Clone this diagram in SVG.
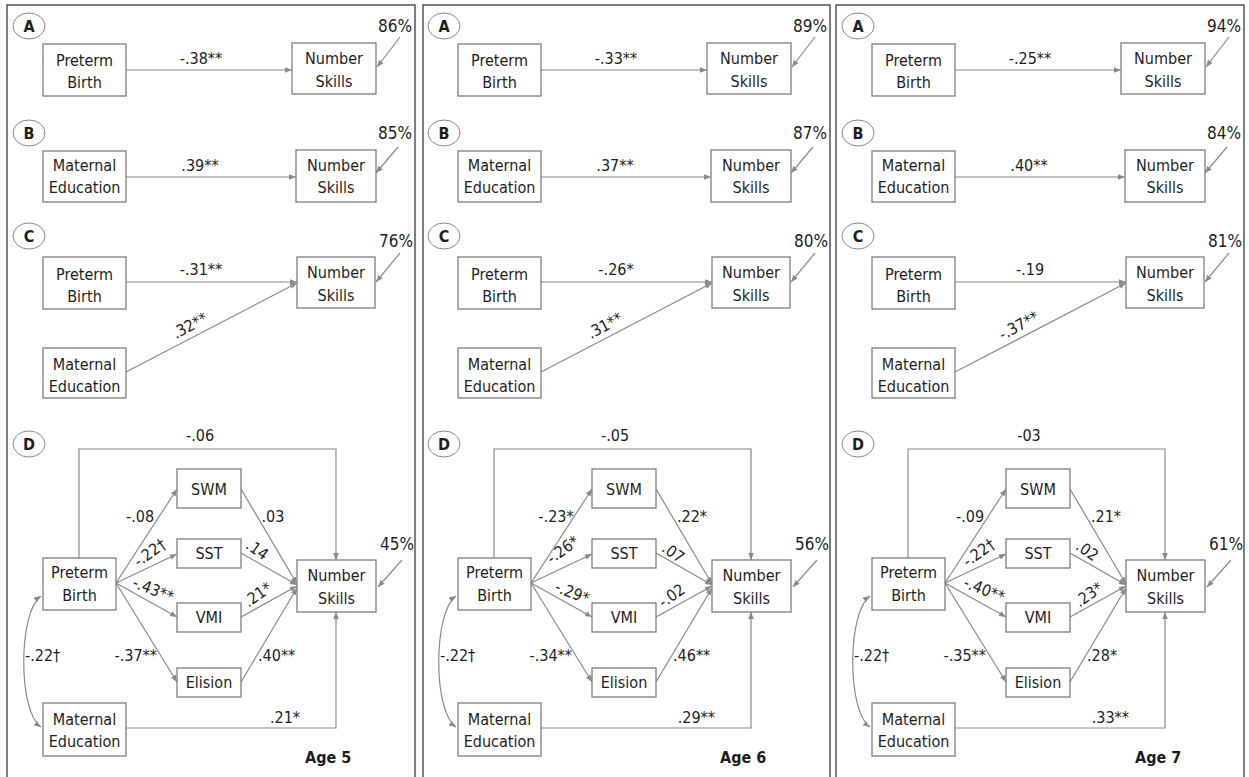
<svg xmlns="http://www.w3.org/2000/svg" width="1249" height="777" viewBox="0 0 1249 777">
<style>
.frame{fill:none;stroke:#3a3a3a;stroke-width:1.3}
.box{fill:#fff;stroke:#7f7f7f;stroke-width:1.3}
.tag{fill:#fff;stroke:#8a8a8a;stroke-width:1}
.e{fill:none;stroke:#8a8a8a;stroke-width:1.2;marker-end:url(#ah)}
.e2{fill:none;stroke:#8a8a8a;stroke-width:1.2;marker-start:url(#ah);marker-end:url(#ah)}
text{font-family:"DejaVu Sans Condensed","Liberation Sans",Arial,sans-serif;fill:#1e1e1e}
.n{font-size:16px;text-anchor:middle}
.c{font-size:16px;text-anchor:middle}
.s{font-size:16px}
.ce{font-size:16px;text-anchor:end}
.p{font-size:17px;text-anchor:middle}
.L{font-size:16px;font-weight:bold;text-anchor:middle}
.age{font-size:16px;font-weight:bold}
</style>
<defs>
<marker id="ah" viewBox="0 0 10 10" refX="10" refY="5" markerWidth="7" markerHeight="7" markerUnits="userSpaceOnUse" orient="auto-start-reverse">
<path d="M0,1 L10,5 L0,9 z" fill="#8a8a8a"/>
</marker>
</defs>
<g id="frames">
<rect class="frame" x="7" y="5" width="408" height="800"/>
<rect class="frame" x="423" y="5" width="407" height="800"/>
<rect class="frame" x="836" y="5" width="408" height="800"/>
</g>

<!-- Panel 1 : Age 5 -->
<g id="panel1">
<g id="p1-edges">
<path class="e" d="M126 70 H292"/>
<path class="e" d="M400 37 L377 67"/>
<path class="e" d="M126 177 H296"/>
<path class="e" d="M398 147 L376 173"/>
<path class="e" d="M126 282 H297"/>
<path class="e" d="M126 372 L297 283"/>
<path class="e" d="M400 253 L376 282"/>
<path class="e" d="M79 558 V449 H336 V560"/>
<path class="e" d="M116 583 L177 489"/>
<path class="e" d="M116 583 L177 554"/>
<path class="e" d="M116 583 L177 617"/>
<path class="e" d="M116 583 L177 682"/>
<path class="e" d="M241 489 L297 584"/>
<path class="e" d="M241 553 L297 585"/>
<path class="e" d="M241 617 L297 586"/>
<path class="e" d="M241 682 L297 588"/>
<path class="e" d="M126 728 H336 V612"/>
<path class="e" d="M402 560 L378 587"/>
<path class="e2" d="M41 596 C18 612, 18 712, 41 727"/>
</g>
<g id="p1-labels">
<text class="c" x="201" y="64">-.38**</text>
<text class="p" x="395" y="32">86%</text>
<text class="c" x="200" y="171">.39**</text>
<text class="p" x="395" y="139">85%</text>
<text class="c" x="201" y="275">-.31**</text>
<text class="c" x="190" y="331" transform="rotate(-28 190 326)">.32**</text>
<text class="p" x="396" y="247">76%</text>
<text class="c" x="200" y="441">-.06</text>
<text class="c" x="140" y="522">-.08</text>
<text class="c" x="273" y="522">.03</text>
<text class="c" x="150" y="558" transform="rotate(-36 150 553)">-.22†</text>
<text class="c" x="257" y="555" transform="rotate(35 257 550)">.14</text>
<text class="c" x="153" y="595" transform="rotate(22 153 590)">-.43**</text>
<text class="c" x="258" y="600" transform="rotate(-35 258 595)">.21*</text>
<text class="ce" x="157" y="661">-.37**</text>
<text class="s" x="258" y="661">.40**</text>
<text class="s" x="25" y="661">-.22†</text>
<text class="ce" x="300" y="723">.21*</text>
<text class="p" x="397" y="550">45%</text>
<text class="age" x="305" y="763">Age 5</text>
</g>
<g id="p1-tagA"><ellipse class="tag" cx="29" cy="26" rx="16" ry="13"/><text class="L" x="29" y="32">A</text></g>
<g id="p1-tagB"><ellipse class="tag" cx="29" cy="133" rx="16" ry="13"/><text class="L" x="29" y="139">B</text></g>
<g id="p1-tagC"><ellipse class="tag" cx="29" cy="236" rx="16" ry="13"/><text class="L" x="29" y="242">C</text></g>
<g id="p1-tagD"><ellipse class="tag" cx="29" cy="444" rx="16" ry="13"/><text class="L" x="29" y="450">D</text></g>
<g id="p1-A-preterm"><rect class="box" x="43" y="44" width="83" height="52"/><text class="n" x="84.5" y="66">Preterm</text><text class="n" x="84.5" y="88">Birth</text></g>
<g id="p1-A-number"><rect class="box" x="292" y="43" width="84" height="51"/><text class="n" x="334" y="64">Number</text><text class="n" x="334" y="87">Skills</text></g>
<g id="p1-B-maternal"><rect class="box" x="43" y="151" width="83" height="51"/><text class="n" x="84.5" y="171">Maternal</text><text class="n" x="84.5" y="193">Education</text></g>
<g id="p1-B-number"><rect class="box" x="296" y="150" width="80" height="52"/><text class="n" x="336" y="171">Number</text><text class="n" x="336" y="193">Skills</text></g>
<g id="p1-C-preterm"><rect class="box" x="43" y="257" width="83" height="52"/><text class="n" x="84.5" y="280">Preterm</text><text class="n" x="84.5" y="302">Birth</text></g>
<g id="p1-C-number"><rect class="box" x="297" y="257" width="78" height="51"/><text class="n" x="336" y="278">Number</text><text class="n" x="336" y="301">Skills</text></g>
<g id="p1-C-maternal"><rect class="box" x="43" y="348" width="83" height="50"/><text class="n" x="84.5" y="370">Maternal</text><text class="n" x="84.5" y="392">Education</text></g>
<g id="p1-D-preterm"><rect class="box" x="43" y="558" width="73" height="52"/><text class="n" x="79.5" y="578">Preterm</text><text class="n" x="79.5" y="601">Birth</text></g>
<g id="p1-D-swm"><rect class="box" x="177" y="469" width="64" height="39"/><text class="n" x="209" y="495">SWM</text></g>
<g id="p1-D-sst"><rect class="box" x="177" y="539" width="64" height="29"/><text class="n" x="209" y="559">SST</text></g>
<g id="p1-D-vmi"><rect class="box" x="177" y="603" width="64" height="29"/><text class="n" x="209" y="623">VMI</text></g>
<g id="p1-D-elision"><rect class="box" x="177" y="668" width="64" height="29"/><text class="n" x="209" y="688">Elision</text></g>
<g id="p1-D-number"><rect class="box" x="297" y="560" width="79" height="52"/><text class="n" x="336.5" y="581">Number</text><text class="n" x="336.5" y="604">Skills</text></g>
<g id="p1-D-maternal"><rect class="box" x="43" y="703" width="83" height="53"/><text class="n" x="84.5" y="725">Maternal</text><text class="n" x="84.5" y="747">Education</text></g>
</g>

<!-- Panel 2 : Age 6 -->
<g id="panel2" transform="translate(415,0)">
<g id="p2-edges">
<path class="e" d="M126 70 H292"/>
<path class="e" d="M400 37 L377 67"/>
<path class="e" d="M126 177 H296"/>
<path class="e" d="M398 147 L376 173"/>
<path class="e" d="M126 282 H297"/>
<path class="e" d="M126 372 L297 283"/>
<path class="e" d="M400 253 L376 282"/>
<path class="e" d="M79 558 V449 H336 V560"/>
<path class="e" d="M116 583 L177 489"/>
<path class="e" d="M116 583 L177 554"/>
<path class="e" d="M116 583 L177 617"/>
<path class="e" d="M116 583 L177 682"/>
<path class="e" d="M241 489 L297 584"/>
<path class="e" d="M241 553 L297 585"/>
<path class="e" d="M241 617 L297 586"/>
<path class="e" d="M241 682 L297 588"/>
<path class="e" d="M126 728 H336 V612"/>
<path class="e" d="M402 560 L378 587"/>
<path class="e2" d="M41 596 C18 612, 18 712, 41 727"/>
</g>
<g id="p2-labels">
<text class="c" x="201" y="64">-.33**</text>
<text class="p" x="395" y="32">89%</text>
<text class="c" x="200" y="171">.37**</text>
<text class="p" x="395" y="139">87%</text>
<text class="c" x="201" y="275">-.26*</text>
<text class="c" x="190" y="331" transform="rotate(-28 190 326)">.31**</text>
<text class="p" x="396" y="247">80%</text>
<text class="c" x="200" y="441">-.05</text>
<text class="c" x="141" y="522">-.23*</text>
<text class="c" x="277" y="522">.22*</text>
<text class="c" x="148" y="555" transform="rotate(-36 148 550)">-.26*</text>
<text class="c" x="258" y="558" transform="rotate(35 258 553)">.07</text>
<text class="c" x="157" y="598" transform="rotate(22 157 593)">-.29*</text>
<text class="c" x="257" y="601" transform="rotate(-35 257 596)">-.02</text>
<text class="ce" x="157" y="661">-.34**</text>
<text class="s" x="258" y="661">.46**</text>
<text class="s" x="25" y="661">-.22†</text>
<text class="ce" x="300" y="723">.29**</text>
<text class="p" x="397" y="550">56%</text>
<text class="age" x="305" y="763">Age 6</text>
</g>
<g id="p2-tagA"><ellipse class="tag" cx="29" cy="26" rx="16" ry="13"/><text class="L" x="29" y="32">A</text></g>
<g id="p2-tagB"><ellipse class="tag" cx="29" cy="133" rx="16" ry="13"/><text class="L" x="29" y="139">B</text></g>
<g id="p2-tagC"><ellipse class="tag" cx="29" cy="236" rx="16" ry="13"/><text class="L" x="29" y="242">C</text></g>
<g id="p2-tagD"><ellipse class="tag" cx="29" cy="444" rx="16" ry="13"/><text class="L" x="29" y="450">D</text></g>
<g id="p2-A-preterm"><rect class="box" x="43" y="44" width="83" height="52"/><text class="n" x="84.5" y="66">Preterm</text><text class="n" x="84.5" y="88">Birth</text></g>
<g id="p2-A-number"><rect class="box" x="292" y="43" width="84" height="51"/><text class="n" x="334" y="64">Number</text><text class="n" x="334" y="87">Skills</text></g>
<g id="p2-B-maternal"><rect class="box" x="43" y="151" width="83" height="51"/><text class="n" x="84.5" y="171">Maternal</text><text class="n" x="84.5" y="193">Education</text></g>
<g id="p2-B-number"><rect class="box" x="296" y="150" width="80" height="52"/><text class="n" x="336" y="171">Number</text><text class="n" x="336" y="193">Skills</text></g>
<g id="p2-C-preterm"><rect class="box" x="43" y="257" width="83" height="52"/><text class="n" x="84.5" y="280">Preterm</text><text class="n" x="84.5" y="302">Birth</text></g>
<g id="p2-C-number"><rect class="box" x="297" y="257" width="78" height="51"/><text class="n" x="336" y="278">Number</text><text class="n" x="336" y="301">Skills</text></g>
<g id="p2-C-maternal"><rect class="box" x="43" y="348" width="83" height="50"/><text class="n" x="84.5" y="370">Maternal</text><text class="n" x="84.5" y="392">Education</text></g>
<g id="p2-D-preterm"><rect class="box" x="43" y="558" width="73" height="52"/><text class="n" x="79.5" y="578">Preterm</text><text class="n" x="79.5" y="601">Birth</text></g>
<g id="p2-D-swm"><rect class="box" x="177" y="469" width="64" height="39"/><text class="n" x="209" y="495">SWM</text></g>
<g id="p2-D-sst"><rect class="box" x="177" y="539" width="64" height="29"/><text class="n" x="209" y="559">SST</text></g>
<g id="p2-D-vmi"><rect class="box" x="177" y="603" width="64" height="29"/><text class="n" x="209" y="623">VMI</text></g>
<g id="p2-D-elision"><rect class="box" x="177" y="668" width="64" height="29"/><text class="n" x="209" y="688">Elision</text></g>
<g id="p2-D-number"><rect class="box" x="297" y="560" width="79" height="52"/><text class="n" x="336.5" y="581">Number</text><text class="n" x="336.5" y="604">Skills</text></g>
<g id="p2-D-maternal"><rect class="box" x="43" y="703" width="83" height="53"/><text class="n" x="84.5" y="725">Maternal</text><text class="n" x="84.5" y="747">Education</text></g>
</g>

<!-- Panel 3 : Age 7 -->
<g id="panel3" transform="translate(829,0)">
<g id="p3-edges">
<path class="e" d="M126 70 H292"/>
<path class="e" d="M400 37 L377 67"/>
<path class="e" d="M126 177 H296"/>
<path class="e" d="M398 147 L376 173"/>
<path class="e" d="M126 282 H297"/>
<path class="e" d="M126 372 L297 283"/>
<path class="e" d="M400 253 L376 282"/>
<path class="e" d="M79 558 V449 H336 V560"/>
<path class="e" d="M116 583 L177 489"/>
<path class="e" d="M116 583 L177 554"/>
<path class="e" d="M116 583 L177 617"/>
<path class="e" d="M116 583 L177 682"/>
<path class="e" d="M241 489 L297 584"/>
<path class="e" d="M241 553 L297 585"/>
<path class="e" d="M241 617 L297 586"/>
<path class="e" d="M241 682 L297 588"/>
<path class="e" d="M126 728 H336 V612"/>
<path class="e" d="M402 560 L378 587"/>
<path class="e2" d="M41 596 C18 612, 18 712, 41 727"/>
</g>
<g id="p3-labels">
<text class="c" x="201" y="64">-.25**</text>
<text class="p" x="395" y="32">94%</text>
<text class="c" x="200" y="171">.40**</text>
<text class="p" x="395" y="139">84%</text>
<text class="c" x="201" y="275">-.19</text>
<text class="c" x="190" y="331" transform="rotate(-28 190 326)">-.37**</text>
<text class="p" x="396" y="247">81%</text>
<text class="c" x="200" y="441">-03</text>
<text class="c" x="141" y="522">-.09</text>
<text class="c" x="277" y="522">.21*</text>
<text class="c" x="150" y="558" transform="rotate(-36 150 553)">-.22†</text>
<text class="c" x="258" y="556" transform="rotate(35 258 551)">.02</text>
<text class="c" x="155" y="595" transform="rotate(22 155 590)">-.40**</text>
<text class="c" x="260" y="600" transform="rotate(-35 260 595)">.23*</text>
<text class="ce" x="157" y="661">-.35**</text>
<text class="s" x="258" y="661">.28*</text>
<text class="s" x="25" y="661">-.22†</text>
<text class="ce" x="300" y="723">.33**</text>
<text class="p" x="397" y="550">61%</text>
<text class="age" x="306" y="763">Age 7</text>
</g>
<g id="p3-tagA"><ellipse class="tag" cx="29" cy="26" rx="16" ry="13"/><text class="L" x="29" y="32">A</text></g>
<g id="p3-tagB"><ellipse class="tag" cx="29" cy="133" rx="16" ry="13"/><text class="L" x="29" y="139">B</text></g>
<g id="p3-tagC"><ellipse class="tag" cx="29" cy="236" rx="16" ry="13"/><text class="L" x="29" y="242">C</text></g>
<g id="p3-tagD"><ellipse class="tag" cx="29" cy="444" rx="16" ry="13"/><text class="L" x="29" y="450">D</text></g>
<g id="p3-A-preterm"><rect class="box" x="43" y="44" width="83" height="52"/><text class="n" x="84.5" y="66">Preterm</text><text class="n" x="84.5" y="88">Birth</text></g>
<g id="p3-A-number"><rect class="box" x="292" y="43" width="84" height="51"/><text class="n" x="334" y="64">Number</text><text class="n" x="334" y="87">Skills</text></g>
<g id="p3-B-maternal"><rect class="box" x="43" y="151" width="83" height="51"/><text class="n" x="84.5" y="171">Maternal</text><text class="n" x="84.5" y="193">Education</text></g>
<g id="p3-B-number"><rect class="box" x="296" y="150" width="80" height="52"/><text class="n" x="336" y="171">Number</text><text class="n" x="336" y="193">Skills</text></g>
<g id="p3-C-preterm"><rect class="box" x="43" y="257" width="83" height="52"/><text class="n" x="84.5" y="280">Preterm</text><text class="n" x="84.5" y="302">Birth</text></g>
<g id="p3-C-number"><rect class="box" x="297" y="257" width="78" height="51"/><text class="n" x="336" y="278">Number</text><text class="n" x="336" y="301">Skills</text></g>
<g id="p3-C-maternal"><rect class="box" x="43" y="348" width="83" height="50"/><text class="n" x="84.5" y="370">Maternal</text><text class="n" x="84.5" y="392">Education</text></g>
<g id="p3-D-preterm"><rect class="box" x="43" y="558" width="73" height="52"/><text class="n" x="79.5" y="578">Preterm</text><text class="n" x="79.5" y="601">Birth</text></g>
<g id="p3-D-swm"><rect class="box" x="177" y="469" width="64" height="39"/><text class="n" x="209" y="495">SWM</text></g>
<g id="p3-D-sst"><rect class="box" x="177" y="539" width="64" height="29"/><text class="n" x="209" y="559">SST</text></g>
<g id="p3-D-vmi"><rect class="box" x="177" y="603" width="64" height="29"/><text class="n" x="209" y="623">VMI</text></g>
<g id="p3-D-elision"><rect class="box" x="177" y="668" width="64" height="29"/><text class="n" x="209" y="688">Elision</text></g>
<g id="p3-D-number"><rect class="box" x="297" y="560" width="79" height="52"/><text class="n" x="336.5" y="581">Number</text><text class="n" x="336.5" y="604">Skills</text></g>
<g id="p3-D-maternal"><rect class="box" x="43" y="703" width="83" height="53"/><text class="n" x="84.5" y="725">Maternal</text><text class="n" x="84.5" y="747">Education</text></g>
</g>
</svg>
